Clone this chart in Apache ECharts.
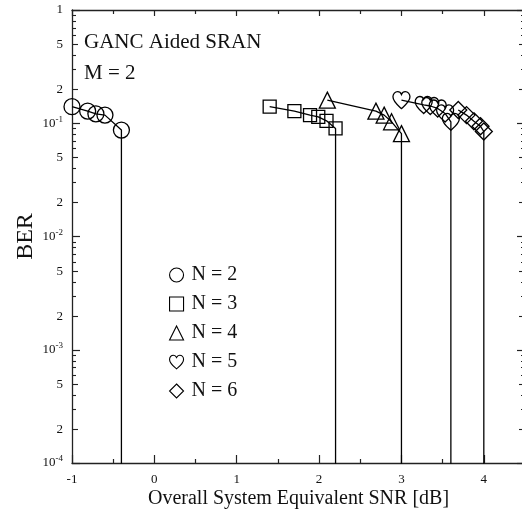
<!DOCTYPE html>
<html>
<head>
<meta charset="utf-8">
<script src="https://cdn.jsdelivr.net/npm/echarts@6/dist/echarts.min.js"></script>
<style>html,body{margin:0;padding:0;background:#fff;}#c{width:522px;height:516px;}</style>
</head>
<body>
<div id="c"></div>
<script>
// ---- data ----
const seriesNames = ['N = 2', 'N = 3', 'N = 4', 'N = 5', 'N = 6'];
const snrN2 = [-1.0, -0.81, -0.71, -0.6, -0.4];
const berN2 = [0.14, 0.128, 0.121, 0.118, 0.087];
const snrN3 = [1.4, 1.7, 1.89, 1.99, 2.09, 2.2];
const berN3 = [0.14, 0.128, 0.118, 0.114, 0.105, 0.09];
const snrN4 = [2.1, 2.69, 2.79, 2.88, 3.0];
const berN4 = [0.16, 0.128, 0.118, 0.103, 0.081];
const snrN5 = [3.0, 3.27, 3.35, 3.44, 3.53, 3.6];
const berN5 = [0.16, 0.145, 0.142, 0.135, 0.122, 0.103];
const snrN6 = [3.69, 3.79, 3.88, 3.96, 4.0];
const berN6 = [0.131, 0.118, 0.104, 0.094, 0.0846];
const dropBER = 1e-6; // BER falls below the plotted range at the last SNR
const xTicks = [-1, 0, 1, 2, 3, 4];
const yDecades = [1e-4, 1e-3, 1e-2, 1e-1, 1];
const minorLabelMultiples = [2, 5];

const FONT = 'Liberation Serif';
const heart = 'path://M12,21.5 C10,19.5 2,14 2,8 C2,4.6 4.5,2 7.5,2 C9.5,2 11.2,3.3 12,5.2 C12.8,3.3 14.5,2 16.5,2 C19.5,2 22,4.6 22,8 C22,14 14,19.5 12,21.5 Z';
const symbols = ['circle', 'rect', 'triangle', heart, 'diamond'];
const symbolSizes = [16, 13, 16, 17, 17];
const xs = [snrN2, snrN3, snrN4, snrN5, snrN6];
const ys = [berN2, berN3, berN4, berN5, berN6];

function buildData(x, y) {
  const d = x.map((v, i) => [v, y[i]]);
  d.push({ value: [x[x.length - 1], dropBER], symbol: 'none' });
  return d;
}

const series = seriesNames.map((name, k) => ({
  name: name,
  type: 'line',
  data: buildData(xs[k], ys[k]),
  symbol: symbols[k],
  symbolSize: symbolSizes[k],
  showAllSymbol: true,
  clip: true,
  lineStyle: { color: '#000', width: 1.3 },
  itemStyle: { color: 'rgba(255,255,255,0)', borderColor: '#000', borderWidth: 1.3 },
  emphasis: { disabled: true },
  animation: false
}));

const axisCommon = {
  axisLine: { show: true, onZero: false, lineStyle: { color: '#222', width: 1.3 } },
  splitLine: { show: false }
};

const option = {
  backgroundColor: '#fff',
  animation: false,
  title: {
    text: 'GANC Aided SRAN\nM = 2',
    left: 79, top: 22,
    textStyle: { fontFamily: FONT, fontSize: 21, fontWeight: 'normal', color: '#111', lineHeight: 31 }
  },
  legend: {
    orient: 'vertical',
    left: 164, top: 260,
    itemWidth: 14, itemHeight: 14,
    itemGap: 9,
    selectedMode: false,
    textStyle: { fontFamily: FONT, fontSize: 20, color: '#111', lineHeight: 20, padding: [0, 0, 0, 3] },
    itemStyle: { color: 'rgba(255,255,255,0)', borderColor: '#000', borderWidth: 1.1 },
    data: seriesNames.map((n, k) => ({ name: n, icon: symbols[k] }))
  },
  grid: { left: 72, top: 10, width: 453, height: 453, containLabel: false, outerBoundsMode: 'none' },
  xAxis: [
    Object.assign({}, axisCommon, {
      type: 'value', min: -1, max: 4.5, interval: 1, position: 'bottom',
      axisTick: { show: true, inside: true, length: 8, lineStyle: { color: '#222', width: 1.2 } },
      minorTick: { show: true, splitNumber: 2, length: 4, lineStyle: { color: '#222', width: 1.2 } },
      axisLabel: {
        fontFamily: FONT, fontSize: 13, color: '#111', margin: 10,
        formatter: v => (xTicks.indexOf(v) >= 0 ? String(v) : '')
      },
      name: 'Overall System Equivalent SNR [dB]',
      nameLocation: 'middle', nameGap: 26, nameMoveOverlap: false,
      nameTextStyle: { fontFamily: FONT, fontSize: 20, color: '#111' }
    }),
    Object.assign({}, axisCommon, {
      type: 'value', min: -1, max: 4.5, interval: 1, position: 'top',
      axisTick: { show: true, inside: true, length: 6, lineStyle: { color: '#222', width: 1.2 } },
      minorTick: { show: true, splitNumber: 2, length: 4, lineStyle: { color: '#222', width: 1.2 } },
      axisLabel: { show: false }
    })
  ],
  yAxis: [
    Object.assign({}, axisCommon, {
      type: 'log', logBase: 10, min: 1e-4, max: 1, interval: 1, position: 'left',
      axisTick: { show: true, inside: true, length: 8, lineStyle: { color: '#222', width: 1.2 } },
      axisLabel: {
        fontFamily: FONT, fontSize: 13, color: '#111', margin: 9,
        formatter: v => {
          const n = Math.round(Math.log10(v));
          return n === 0 ? '1' : '10{sup|' + n + '}';
        },
        rich: { sup: { fontFamily: FONT, fontSize: 9, color: '#111', padding: [0, 0, 8, 0] } }
      },
      name: 'BER', nameLocation: 'middle', nameGap: 34, nameRotate: 90, nameMoveOverlap: false,
      nameTextStyle: { fontFamily: FONT, fontSize: 24, color: '#111' }
    }),
    Object.assign({}, axisCommon, {
      type: 'log', logBase: 10, min: 1e-4, max: 1, interval: 1, position: 'right',
      axisTick: { show: true, inside: true, length: 8, lineStyle: { color: '#222', width: 1.2 } },
      axisLabel: { show: false }
    })
  ],
  series: series
};

const chart = echarts.init(document.getElementById('c'), null, { renderer: 'canvas' });
chart.setOption(option);

// minor log ticks (2..9 per decade) placed through the y axis scale
const xl = chart.convertToPixel({ xAxisIndex: 0 }, -1);
const xr = chart.convertToPixel({ xAxisIndex: 0 }, 4.5);
const g = [];
for (let i = 0; i < yDecades.length - 1; i++) {
  const base = yDecades[i];
  for (let m = 2; m <= 9; m++) {
    const v = m * base;
    const py = Math.round(chart.convertToPixel({ yAxisIndex: 0 }, v)) + 0.5;
    const labelled = minorLabelMultiples.indexOf(m) >= 0;
    const len = labelled ? 6 : 4;
    g.push({ type: 'line', silent: true, shape: { x1: xl, y1: py, x2: xl + len, y2: py }, style: { stroke: '#222', lineWidth: 1.1 } });
    g.push({ type: 'line', silent: true, shape: { x1: xr, y1: py, x2: xr - len, y2: py }, style: { stroke: '#222', lineWidth: 1.1 } });
    if (labelled) {
      g.push({ type: 'text', silent: true, x: xl - 9, y: py,
        style: { text: String(m), fontFamily: FONT, fontSize: 13, fill: '#111', align: 'right', verticalAlign: 'middle' } });
    }
  }
}
chart.setOption({ graphic: g });
</script>
</body>
</html>
